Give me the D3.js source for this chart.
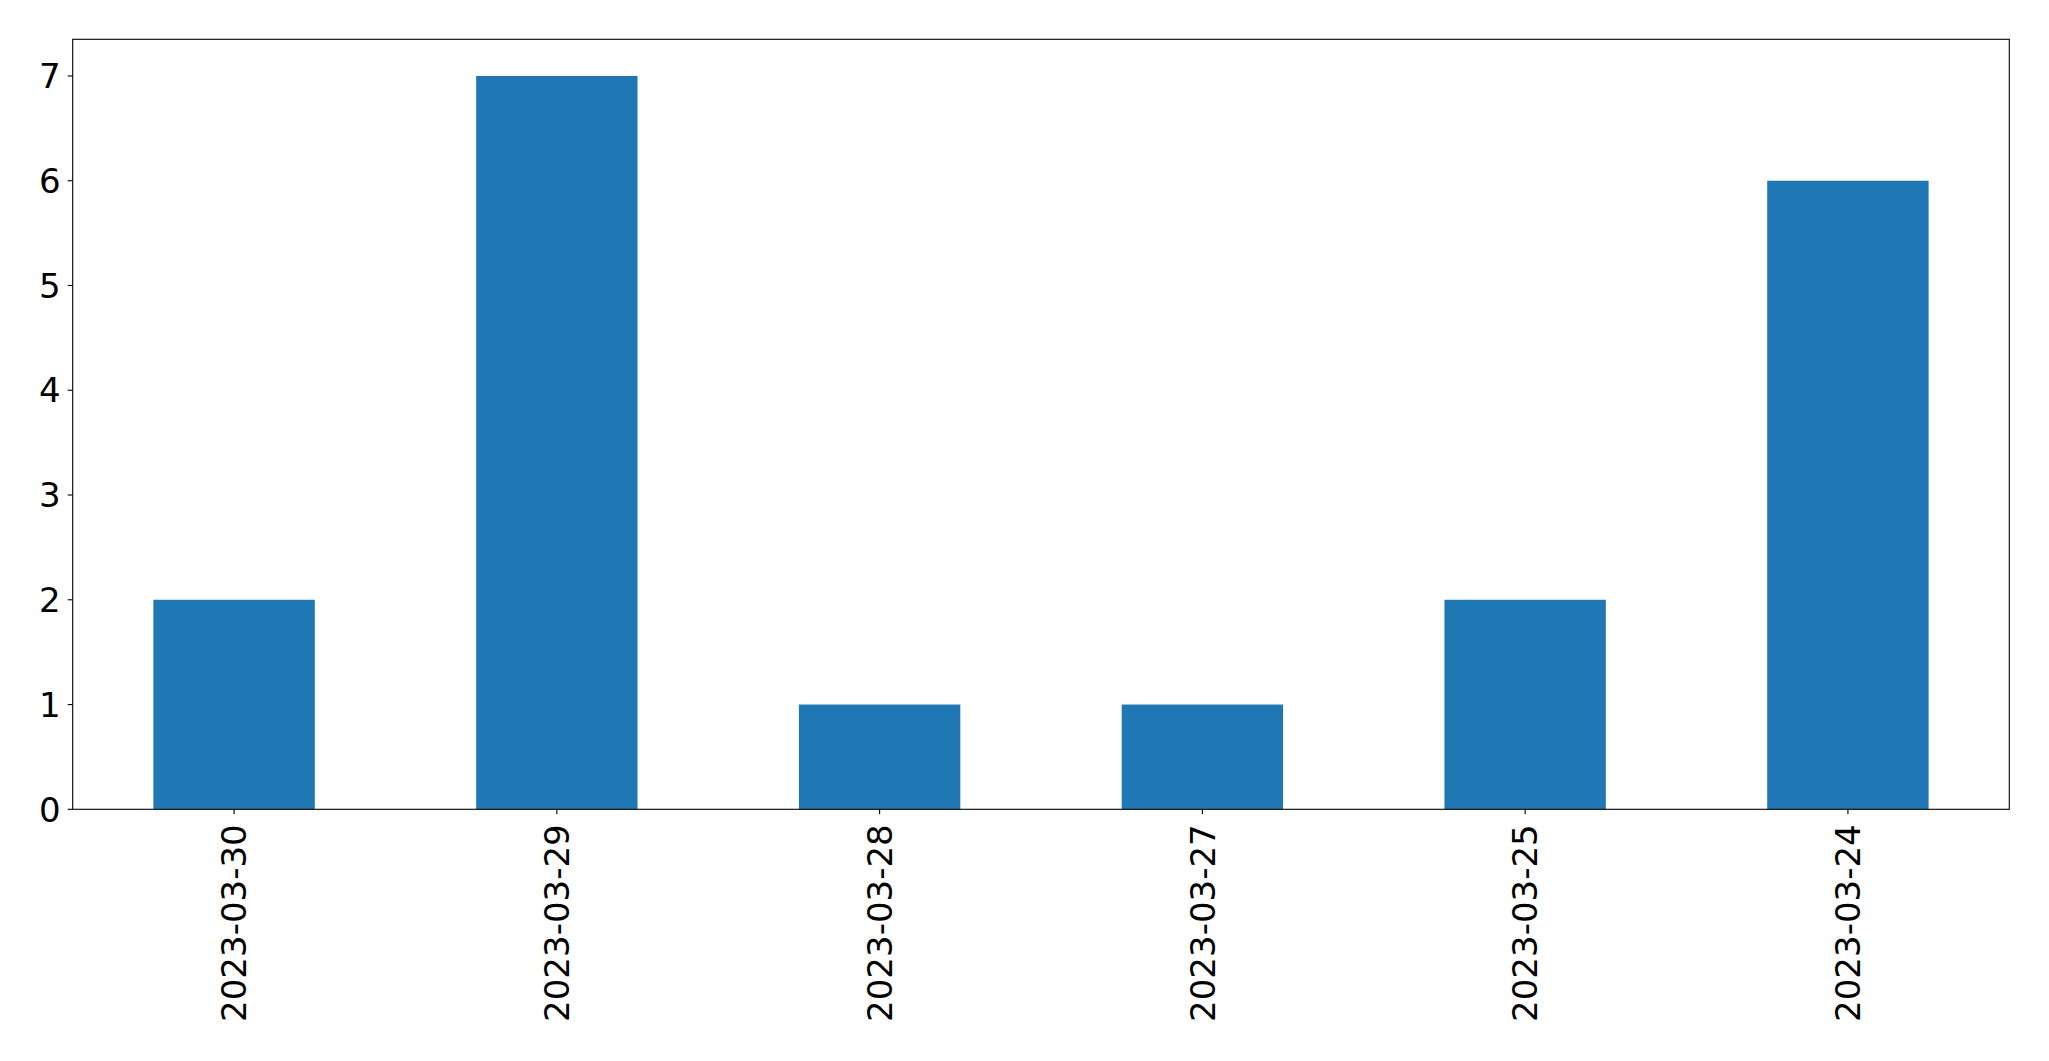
<!DOCTYPE html>
<html><head><meta charset="utf-8">
<script src="https://cdn.jsdelivr.net/npm/d3@7"></script>
<style>body{margin:0;background:#fff}svg{display:block}text{font-family:"DejaVu Sans",sans-serif;fill:#000}</style>
</head><body>
<script>
const categories = ["2023-03-30","2023-03-29","2023-03-28","2023-03-27","2023-03-25","2023-03-24"];
const values = [2,7,1,1,2,6];
const yTicks = [0,1,2,3,4,5,6,7];

(function(){
const W=2049,H=1061;
const mL=72.7,mR=2009.3,mT=39.3,mB=809.3;
const svg=d3.select("body").append("svg").attr("width",W).attr("height",H);
const x=d3.scaleLinear().domain([-0.5,categories.length-0.5]).range([mL,mR]);
const y=d3.scaleLinear().domain([0,7.35]).range([mB,mT]);

svg.append("g").selectAll("rect").data(values).join("rect")
  .attr("x",(d,i)=>x(i-0.25)).attr("width",(d,i)=>x(i+0.25)-x(i-0.25))
  .attr("y",d=>y(d)).attr("height",d=>y(0)-y(d)).attr("fill","#1f77b4");

const fs=34;
const yg=svg.append("g");
yTicks.forEach(t=>{
  yg.append("line").attr("x1",mL-5).attr("x2",mL).attr("y1",y(t)).attr("y2",y(t)).attr("stroke","#000").attr("stroke-width",1.1);
  yg.append("text").attr("x",mL-12).attr("y",y(t)).attr("dy","0.36em").attr("text-anchor","end").attr("font-size",fs).text(t);
});
const xg=svg.append("g");
categories.forEach((c,i)=>{
  const cx=x(i);
  xg.append("line").attr("x1",cx).attr("x2",cx).attr("y1",mB).attr("y2",mB+5).attr("stroke","#000").attr("stroke-width",1.1);
  xg.append("text").attr("transform",`translate(${cx},${mB+15}) rotate(-90)`).attr("dy","0.36em").attr("text-anchor","end").attr("font-size",fs).text(c);
});
svg.append("rect").attr("x",mL).attr("y",mT).attr("width",mR-mL).attr("height",mB-mT).attr("fill","none").attr("stroke","#000").attr("stroke-width",1.1);
})();
</script>
</body></html>
